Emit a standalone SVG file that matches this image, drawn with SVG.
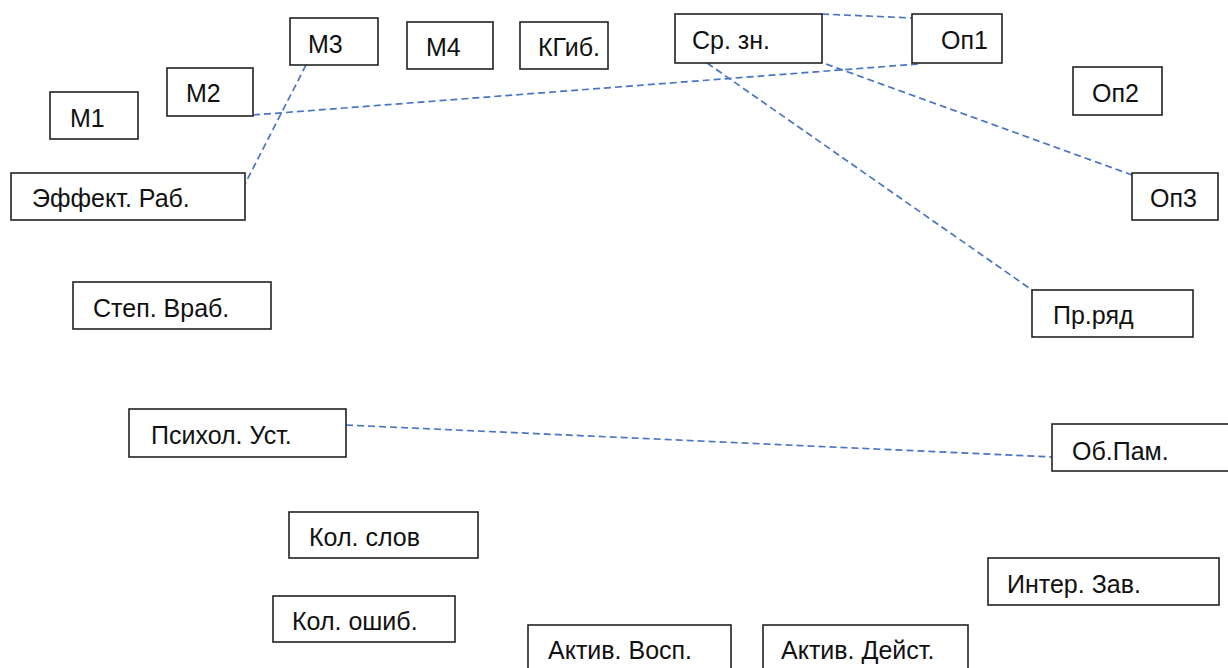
<svg xmlns="http://www.w3.org/2000/svg" width="1228" height="668" viewBox="0 0 1228 668">
<style>
rect{fill:#fff;stroke:#222;stroke-width:1.6}
text{font-family:"Liberation Sans",Arial,sans-serif;font-size:25px;fill:#111}
.c line{stroke:#4a74c6;stroke-width:1.7;stroke-dasharray:7 4;fill:none}
</style>
<rect x="0" y="0" width="1228" height="668" style="stroke:none"/>
<g class="c" id="connectors">
<line x1="306" y1="65" x2="245" y2="184"/>
<line x1="253" y1="115" x2="918" y2="64"/>
<line x1="822" y1="14" x2="912" y2="18"/>
<line x1="826" y1="64" x2="1132" y2="175"/>
<line x1="707" y1="63" x2="1032" y2="290"/>
<line x1="346" y1="425" x2="1052" y2="457"/>
</g>
<g id="M1"><rect x="50" y="92" width="88" height="47"/><text x="70" y="127">М1</text></g>
<g id="M2"><rect x="167" y="68" width="86" height="48"/><text x="186" y="102">М2</text></g>
<g id="M3"><rect x="290" y="18" width="88" height="47"/><text x="308" y="53">М3</text></g>
<g id="M4"><rect x="407" y="22" width="86" height="47"/><text x="426" y="56">М4</text></g>
<g id="KGib"><rect x="520" y="22" width="88" height="47"/><text x="538" y="56">КГиб.</text></g>
<g id="SrZn"><rect x="675" y="14" width="147" height="49"/><text x="692" y="49">Ср. зн.</text></g>
<g id="Op1"><rect x="912" y="14" width="90" height="49"/><text x="941" y="49">Оп1</text></g>
<g id="Op2"><rect x="1073" y="67" width="89" height="48"/><text x="1092" y="102">Оп2</text></g>
<g id="Op3"><rect x="1132" y="173" width="86" height="47"/><text x="1150" y="207">Оп3</text></g>
<g id="EffRab"><rect x="11" y="173" width="234" height="47"/><text x="32" y="207">Эффект. Раб.</text></g>
<g id="StepVrab"><rect x="73" y="282" width="198" height="47"/><text x="93" y="317">Степ. Враб.</text></g>
<g id="PrRyad"><rect x="1032" y="290" width="161" height="47"/><text x="1053" y="324">Пр.ряд</text></g>
<g id="PsihUst"><rect x="129" y="409" width="217" height="48"/><text x="151" y="444">Психол. Уст.</text></g>
<g id="ObPam"><rect x="1052" y="424" width="180" height="47"/><text x="1072" y="460">Об.Пам.</text></g>
<g id="KolSlov"><rect x="289" y="512" width="189" height="46"/><text x="309" y="546">Кол. слов</text></g>
<g id="InterZav"><rect x="988" y="558" width="231" height="47"/><text x="1007" y="593">Интер. Зав.</text></g>
<g id="KolOshib"><rect x="273" y="596" width="182" height="46"/><text x="292" y="630">Кол. ошиб.</text></g>
<g id="AktVosp"><rect x="528" y="625" width="203" height="50"/><text x="548" y="659">Актив. Восп.</text></g>
<g id="AktDeist"><rect x="763" y="625" width="205" height="50"/><text x="781" y="659">Актив. Дейст.</text></g>
</svg>
